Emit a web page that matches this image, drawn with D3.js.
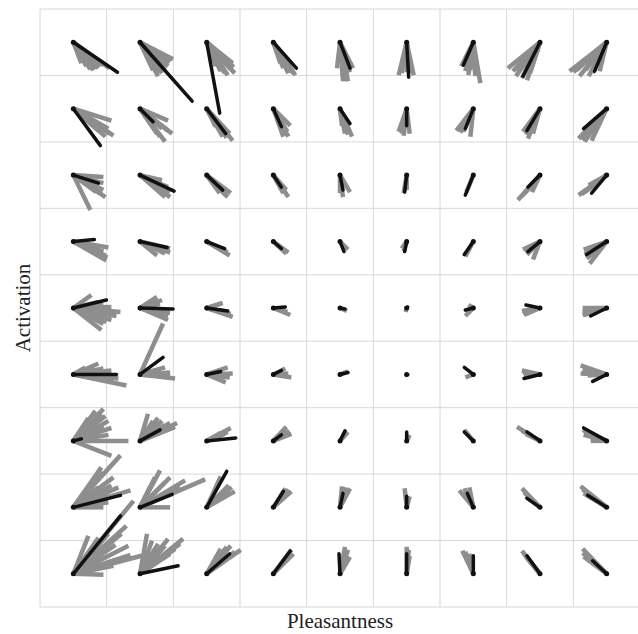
<!DOCTYPE html>
<html>
<head>
<meta charset="utf-8">
<script src="https://cdn.jsdelivr.net/npm/d3@7"></script>
<style>
  body { margin: 0; background: #fff; }
  svg { display: block; }
</style>
</head>
<body>
<svg id="chart" width="638" height="634"></svg>
<script>
// grid levels (cell centres)
const pleasantnessLevels = [-4, -3, -2, -1, 0, 1, 2, 3, 4];
const activationLevels = [4, 3, 2, 1, 0, -1, -2, -3, -4]; // top row first

// mean vector per cell [dP, dA], one row per activation level (top to bottom)
// units: 66.5 = one grid cell
const meanVectors = [
  [[44,-30],[52,-59],[13,-71],[23,-26],[10,-26],[2,-35],[-10,-23],[-17,-34],[-12,-29]],
  [[27,-37],[13,-13],[19,-25],[8,-18],[10,-15],[0,-17],[-8,-20],[-13,-22],[-23,-20]],
  [[25,-8],[34,-16],[16,-15],[8,-12],[3,-15],[-2,-17],[-8,-20],[-12,-12],[-15,-18]],
  [[21,2],[27,-6],[18,-7],[8,-7],[4,-10],[-2,-10],[-9,-13],[-12,-10],[-20,-13]],
  [[33,8],[33,-1],[21,-3],[12,1],[5,-1],[1,1],[-8,-2],[-14,3],[-16,-8]],
  [[43,0],[23,17],[14,3],[8,4],[8,2],[1,0],[-9,7],[-16,-4],[-14,-7]],
  [[8,2],[20,11],[29,3],[8,6],[5,10],[0,9],[-9,9],[-13,9],[-23,13]],
  [[47,12],[32,13],[20,36],[10,16],[3,14],[0,11],[-6,14],[-13,9],[-19,12]],
  [[47,58],[38,8],[23,20],[17,23],[-1,20],[0,20],[0,18],[-13,18],[-14,13]]
];

// individual vectors per cell, one array per activation row
const samplesA4 = [
  [[30,-23],[25,-26],[20,-28],[13,-24],[8,-21],[36,-26],[17,-27],[27,-24],[22,-27]],
  [[33,-17],[28,-24],[22,-31],[18,-34],[13,-28],[25,-28],[30,-20],[20,-30]],
  [[26,-21],[28,-31],[21,-33],[14,-29],[9,-24],[24,-27],[27,-25],[18,-31]],
  [[22,-33],[15,-31],[10,-26],[7,-21],[18,-30],[20,-31]],
  [[13,-26],[8,-39],[5,-39],[3,-39],[-3,-26],[10,-30],[7,-35]],
  [[-8,-33],[7,-33],[-2,-24],[0,-30],[-5,-31],[4,-31]],
  [[7,-41],[2,-34],[-5,-33],[-12,-24],[-3,-28],[-8,-29]],
  [[-32,-26],[-18,-36],[-13,-38],[-8,-24],[-22,-30],[-27,-29],[-24,-34],[-10,-31]],
  [[-37,-29],[-27,-34],[-18,-34],[-25,-21],[-7,-29],[-30,-28],[-33,-30],[-21,-28],[-14,-31]]
];
const samplesA3 = [
  [[38,-12],[40,-27],[32,-28],[25,-22],[30,-18],[35,-20],[36,-25]],
  [[28,-12],[32,-25],[25,-33],[17,-25],[22,-20],[28,-22],[20,-28]],
  [[26,-32],[23,-25],[16,-28],[9,-18],[20,-29]],
  [[15,-28],[17,-17],[10,-28],[14,-23]],
  [[12,-28],[5,-25],[2,-17],[8,-26]],
  [[-8,-23],[3,-25],[-3,-27],[-5,-25]],
  [[-17,-22],[-3,-28],[-10,-23],[-13,-24]],
  [[-12,-30],[-17,-23],[-7,-25],[-14,-26]],
  [[-28,-30],[-22,-33],[-15,-32],[-18,-22],[-25,-31]]
];
const samplesA2 = [
  [[30,-2],[30,-15],[32,-22],[17,-35],[23,-17],[30,-8],[28,-19]],
  [[22,-5],[30,-22],[25,-22],[28,-12],[30,-17]],
  [[24,-18],[21,-22],[13,-18],[19,-20]],
  [[15,-22],[13,-15],[10,-18]],
  [[10,-17],[3,-22],[0,-18]],
  [[-3,-18],[0,-15]],
  [[-7,-17]],
  [[-22,-25],[-15,-18],[-8,-17],[-18,-21]],
  [[-28,-20],[-22,-17],[-18,-10],[-25,-19]]
];
const samplesA1 = [
  [[35,-6],[33,-19],[32,-14],[22,-9],[30,-10],[34,-16]],
  [[30,-11],[30,-7],[17,-14],[25,-12],[28,-9]],
  [[23,-14],[21,-11],[16,-9]],
  [[15,-11],[13,-12]],
  [[8,-8]],
  [[-3,-10],[-5,-7]],
  [[-8,-15]],
  [[-17,-8],[-7,-18],[-13,-13],[-15,-10]],
  [[-23,-8],[-17,-22],[-22,-13],[-20,-17]]
];
const samplesA0 = [
  [[47,-4],[28,-22],[38,-12],[18,13],[38,1],[30,-16],[25,6],[43,-8],[33,-14],[30,3]],
  [[17,11],[28,-12],[30,-5],[22,8],[25,-2],[28,-8],[20,4]],
  [[26,-9],[16,5],[22,-4],[24,-6]],
  [[17,-7],[14,-4]],
  [[7,-3]],
  [[-1,-4]],
  [[-8,-8],[-5,3],[-7,-5]],
  [[-16,-7],[-18,-3],[-17,-5]],
  [[-24,-7],[-24,0],[-23,-7],[-24,-4]]
];
const samplesAm1 = [
  [[53,-11],[45,-4],[25,11],[32,2],[12,7],[38,4],[40,-7],[30,6],[20,8]],
  [[23,51],[35,-4],[25,7],[15,1],[30,2],[30,-2],[20,5]],
  [[26,1],[19,-8],[21,7],[23,-3]],
  [[18,-3],[12,6],[15,1]],
  [[8,3]],
  [[1,-2]],
  [[-8,-3]],
  [[-18,4],[-16,-1],[-17,2]],
  [[-26,9],[-26,1],[-19,-1],[-24,5]]
];
const samplesAm2 = [
  [[55,0],[38,-15],[30,32],[28,27],[38,13],[35,20],[15,23],[25,8],[22,30],[32,25],[30,15],[20,20],[35,6]],
  [[37,18],[8,27],[18,23],[32,13],[13,20],[25,16],[30,18],[22,20],[35,14]],
  [[24,13],[18,7],[14,8],[21,9]],
  [[18,7],[13,14],[16,10]],
  [[8,9]],
  [[3,6]],
  [[-9,11]],
  [[-23,14],[-14,7],[-18,10]],
  [[-24,11],[-23,6],[-16,0],[-22,9]]
];
const samplesAm3 = [
  [[47,52],[57,17],[28,40],[38,22],[30,0],[22,30],[35,13],[40,30],[30,35],[45,20],[35,5],[25,20]],
  [[65,28],[45,27],[20,37],[10,20],[30,0],[35,17],[25,25],[30,30],[15,30],[40,20]],
  [[28,16],[14,31],[22,22],[25,20]],
  [[18,16],[12,19],[15,18]],
  [[2,21],[10,19],[6,20]],
  [[-2,19],[3,11]],
  [[-14,17],[-4,20],[-9,19]],
  [[-18,19],[-14,11],[-16,15]],
  [[-26,21],[-23,14],[-24,18]]
];
const samplesAm4 = [
  [[60,73],[53,48],[15,38],[57,19],[30,-1],[68,18],[42,29],[25,36],[48,40],[35,40],[55,28],[45,15],[40,8],[20,20]],
  [[43,35],[7,40],[28,35],[18,30],[35,25],[22,17],[12,33],[25,28],[30,20],[40,30],[15,25]],
  [[34,24],[24,28],[14,25],[28,22],[20,27]],
  [[20,20],[18,24]],
  [[5,27],[10,17],[8,24]],
  [[0,27],[3,18],[2,24]],
  [[-11,23],[-4,20],[-8,22]],
  [[-18,23],[-14,17],[-16,20]],
  [[-24,25],[-23,17],[-24,21]]
];
const sampleRows = [samplesA4, samplesA3, samplesA2, samplesA1, samplesA0,
                    samplesAm1, samplesAm2, samplesAm3, samplesAm4];

const margin = { left: 40, right: -2, top: 9, bottom: 27 };
const W = 638, H = 634;

const svg = d3.select("#chart");

const x = d3.scaleLinear().domain([-4.5, 4.5]).range([margin.left, W - margin.right]);
const y = d3.scaleLinear().domain([-4.5, 4.5]).range([H - margin.bottom, margin.top]);
// vector units -> data units
const vec = d3.scaleLinear().domain([0, 66.5]).range([0, 1]);

const edges = d3.range(-4.5, 4.51, 1);

// grid
const grid = svg.append("g").attr("stroke", "#d8d8d8").attr("stroke-width", 1);
grid.selectAll("line.v").data(edges).enter().append("line")
    .attr("x1", d => x(d)).attr("x2", d => x(d))
    .attr("y1", y(-4.5)).attr("y2", y(4.5));
grid.selectAll("line.h").data(edges).enter().append("line")
    .attr("y1", d => y(d)).attr("y2", d => y(d))
    .attr("x1", x(-4.5)).attr("x2", x(4.5));

// flatten cells
const cells = [];
activationLevels.forEach((a, r) => {
    pleasantnessLevels.forEach((p, c) => {
        cells.push({ p, a, mean: meanVectors[r][c], samples: sampleRows[r][c] });
    });
});

const grays = [];
cells.forEach(cell => cell.samples.forEach(s => grays.push({ p: cell.p, a: cell.a, v: s })));

svg.append("g")
    .selectAll("line")
    .data(grays)
    .enter()
    .append("line")
    .attr("x1", d => x(d.p))
    .attr("y1", d => y(d.a))
    .attr("x2", d => x(d.p + vec(d.v[0])))
    .attr("y2", d => y(d.a + vec(d.v[1])))
    .attr("stroke", "#8e8e8e")
    .attr("stroke-width", 4.5)
    .attr("stroke-linecap", "butt");

svg.append("g")
    .selectAll("line")
    .data(cells)
    .enter()
    .append("line")
    .attr("x1", d => x(d.p))
    .attr("y1", d => y(d.a))
    .attr("x2", d => x(d.p + vec(d.mean[0])))
    .attr("y2", d => y(d.a + vec(d.mean[1])))
    .attr("stroke", "#111")
    .attr("stroke-width", 3.5)
    .attr("stroke-linecap", "round");

svg.append("g")
    .selectAll("circle")
    .data(cells)
    .enter()
    .append("circle")
    .attr("cx", d => x(d.p))
    .attr("cy", d => y(d.a))
    .attr("r", 2.5)
    .attr("fill", "#111");

// axis titles
svg.append("text")
    .attr("x", x(0))
    .attr("y", 628)
    .attr("text-anchor", "middle")
    .attr("font-family", "'Liberation Serif', 'Times New Roman', serif")
    .attr("font-size", 21)
    .attr("fill", "#222")
    .text("Pleasantness");

svg.append("text")
    .attr("transform", `translate(30, ${y(0)}) rotate(-90)`)
    .attr("text-anchor", "middle")
    .attr("font-family", "'Liberation Serif', 'Times New Roman', serif")
    .attr("font-size", 21)
    .attr("fill", "#222")
    .text("Activation");
</script>
</body>
</html>
